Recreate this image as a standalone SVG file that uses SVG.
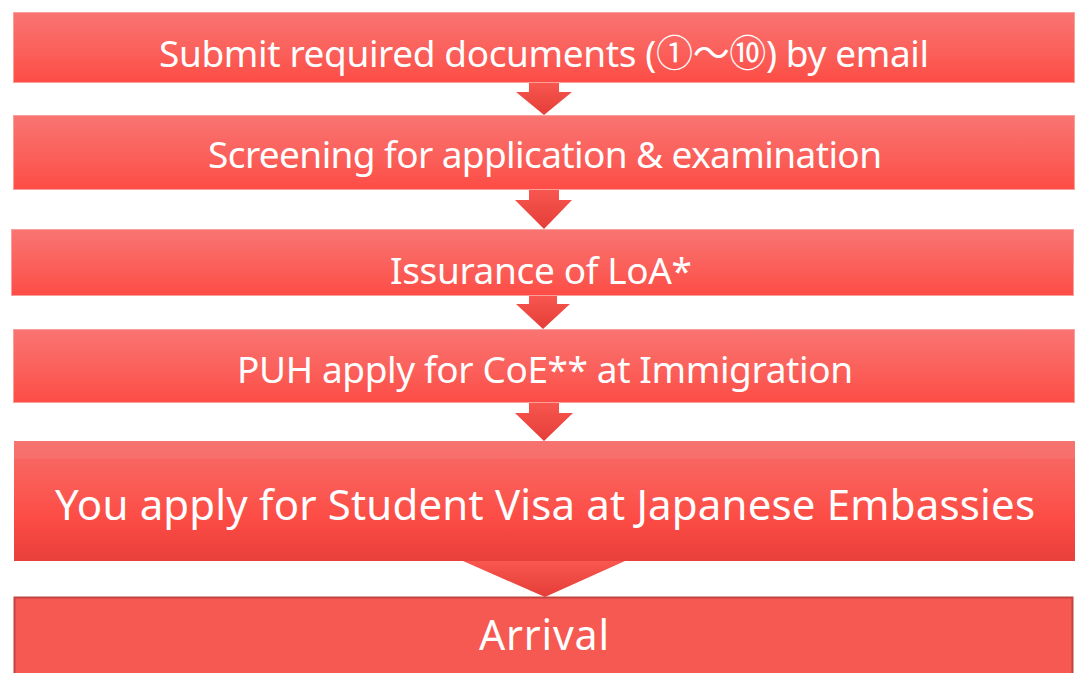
<svg xmlns="http://www.w3.org/2000/svg" width="1078" height="673" viewBox="0 0 1078 673">
<defs>
<linearGradient id="gb" x1="0" y1="0" x2="0" y2="1">
<stop offset="0" stop-color="#f97471"/>
<stop offset="0.5" stop-color="#fb625d"/>
<stop offset="1" stop-color="#fd4c45"/>
</linearGradient>
<linearGradient id="gv" x1="0" y1="0" x2="0" y2="1">
<stop offset="0" stop-color="#f66c68"/>
<stop offset="0.4" stop-color="#fb5a54"/>
<stop offset="0.65" stop-color="#fc4b44"/>
<stop offset="1" stop-color="#e8403b"/>
</linearGradient>
<linearGradient id="ga" x1="0" y1="0" x2="0" y2="1">
<stop offset="0" stop-color="#f85750"/>
<stop offset="1" stop-color="#e53d38"/>
</linearGradient>
<style>
.box{fill:url(#gb);stroke:#f9a09c;stroke-width:1}
.big{fill:url(#gv);stroke:none}
.arr{fill:url(#ga);stroke:none}
.t{font-family:"Noto Sans","Noto Sans CJK JP",sans-serif;fill:#ffffff;text-anchor:middle}
</style>
</defs>
<g id="connectors">
<path class="arr" d="M529,82 H559 V92 H572 L544,115 L516,92 H529 Z"/>
<path class="arr" d="M529,189 H559 V200 H572 L544,229 L515,200 H529 Z"/>
<path class="arr" d="M529,295 H557 V304 H570 L543,329 L516,304 H529 Z"/>
<path class="arr" d="M529,402 H559 V413 H573 L544,441 L515,413 H529 Z"/>
<path class="arr" d="M463,561 H625 L545,597 Z"/>
</g>
<g id="n1">
<rect class="box" x="13.5" y="12.5" width="1061" height="70"/>
<text class="t" x="544" y="67" font-size="37" textLength="770" lengthAdjust="spacing">Submit required documents (①～⑩) by email</text>
</g>
<g id="n2">
<rect class="box" x="13.5" y="115.5" width="1061" height="74"/>
<text class="t" x="545" y="168" font-size="37" textLength="674" lengthAdjust="spacing">Screening for application &amp; examination</text>
</g>
<g id="n3">
<rect class="box" x="11.5" y="229.5" width="1062" height="66"/>
<text class="t" x="541" y="284" font-size="37" textLength="302" lengthAdjust="spacing">Issurance of LoA*</text>
</g>
<g id="n4">
<rect class="box" x="13.5" y="329.5" width="1061" height="73"/>
<text class="t" x="545" y="383" font-size="37" textLength="616" lengthAdjust="spacing">PUH apply for CoE** at Immigration</text>
</g>
<g id="n5">
<rect class="big" x="14" y="441" width="1061" height="120"/>
<rect x="14" y="441" width="1061" height="18" fill="#ffffff" opacity="0.06"/>
<text class="t" x="545" y="520" font-size="42" textLength="980" lengthAdjust="spacing">You apply for Student Visa at Japanese Embassies</text>
</g>
<g id="n6">
<rect x="14.5" y="597.5" width="1058" height="80" fill="#f65952" stroke="#c24440" stroke-width="2"/>
<text class="t" x="544" y="650" font-size="41" textLength="130" lengthAdjust="spacing">Arrival</text>
</g>
</svg>
